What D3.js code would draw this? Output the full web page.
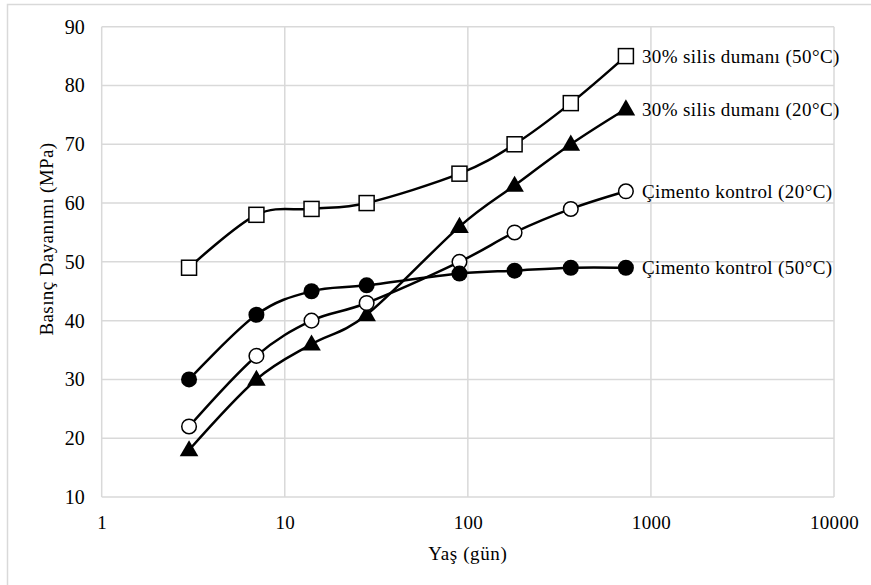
<!DOCTYPE html>
<html>
<head>
<meta charset="utf-8">
<script src="https://cdn.jsdelivr.net/npm/d3@7"></script>
<style>
  body { margin: 0; background: #fff; }
  text { font-family: "Liberation Serif", "Times New Roman", serif; fill: #000; }
</style>
</head>
<body>
<div id="chart"></div>
<script>
// ages in days (log axis)
var days = [3, 7, 14, 28, 90, 180, 365, 730];

// compressive strength (MPa) for each series
var silis50 = [49, 58, 59, 60, 65, 70, 77, 85];
var silis20 = [18, 30, 36, 41, 56, 63, 70, 76];
var cim20 = [22, 34, 40, 43, 50, 55, 59, 62];
var cim50 = [30, 41, 45, 46, 48, 48.5, 49, 49];

var seriesNames = ["30% silis dumanı (50°C)", "30% silis dumanı (20°C)", "Çimento kontrol (20°C)", "Çimento kontrol (50°C)"];
var xTicks = [1, 10, 100, 1000, 10000];
var yTicks = [10, 20, 30, 40, 50, 60, 70, 80, 90];

var series = [
  { name: seriesNames[0], values: silis50, marker: "square" },
  { name: seriesNames[1], values: silis20, marker: "triangle" },
  { name: seriesNames[2], values: cim20, marker: "openCircle" },
  { name: seriesNames[3], values: cim50, marker: "filledCircle" }
];

var svgWidth = 871, svgHeight = 585;
var margin = { top: 26.7, right: 37, bottom: 88, left: 101.7 };
var chartWidth = svgWidth - margin.left - margin.right;
var chartHeight = svgHeight - margin.top - margin.bottom;

var svg = d3.select("#chart").append("svg")
  .attr("width", svgWidth)
  .attr("height", svgHeight);

// outer frame (only top/left visible in the picture)
svg.append("path")
  .attr("d", "M7.5,585 V4.5 H871")
  .attr("fill", "none")
  .attr("stroke", "#d9d9d9")
  .attr("stroke-width", 1.5);

var chart = svg.append("g")
  .attr("transform", "translate(" + margin.left + "," + margin.top + ")");

var x = d3.scaleLog().domain([1, 10000]).range([0, chartWidth]);
var y = d3.scaleLinear().domain([10, 90]).range([chartHeight, 0]);

// gridlines
chart.selectAll(".hgrid").data(yTicks).enter().append("line")
  .attr("x1", 0).attr("x2", chartWidth)
  .attr("y1", function(d) { return y(d); })
  .attr("y2", function(d) { return y(d); })
  .attr("stroke", "#d9d9d9").attr("stroke-width", 1.5);

chart.selectAll(".vgrid").data(xTicks).enter().append("line")
  .attr("y1", 0).attr("y2", chartHeight)
  .attr("x1", function(d) { return x(d); })
  .attr("x2", function(d) { return x(d); })
  .attr("stroke", "#d9d9d9").attr("stroke-width", 1.5);

// axes (labels only)
var yAxis = chart.append("g")
  .call(d3.axisLeft(y).tickValues(yTicks).tickSize(0).tickPadding(17));
var xAxis = chart.append("g")
  .attr("transform", "translate(0," + chartHeight + ")")
  .call(d3.axisBottom(x).tickValues(xTicks).tickFormat(d3.format("d")).tickSize(0).tickPadding(19));
yAxis.select(".domain").remove();
xAxis.select(".domain").remove();
yAxis.selectAll("text").attr("font-family", "Liberation Serif").attr("font-size", 20).attr("fill", "#000");
xAxis.selectAll("text").attr("font-family", "Liberation Serif").attr("font-size", 19).attr("fill", "#000")
  .attr("letter-spacing", 0.3);

// axis titles
svg.append("text")
  .attr("transform", "translate(53,239) rotate(-90)")
  .attr("text-anchor", "middle")
  .attr("font-size", 19)
  .attr("letter-spacing", 0.4)
  .text("Basınç Dayanımı (MPa)");

svg.append("text")
  .attr("x", margin.left + chartWidth / 2)
  .attr("y", 560)
  .attr("text-anchor", "middle")
  .attr("font-size", 19)
  .attr("letter-spacing", 0.6)
  .text("Yaş (gün)");

// smoothed lines
var line = d3.line()
  .x(function(d, i) { return x(days[i]); })
  .y(function(d) { return y(d); })
  .curve(d3.curveCardinal.tension(0));

series.forEach(function(s) {
  chart.append("path")
    .attr("d", line(s.values))
    .attr("fill", "none")
    .attr("stroke", "#000")
    .attr("stroke-width", 2.5);
});

// markers
var tri = d3.symbol().type(d3.symbolTriangle).size(150);
series.forEach(function(s) {
  var g = chart.append("g");
  s.values.forEach(function(v, i) {
    var cx = x(days[i]), cy = y(v);
    if (s.marker === "square") {
      g.append("rect").attr("x", cx - 7.5).attr("y", cy - 7.5)
        .attr("width", 15).attr("height", 15)
        .attr("fill", "#fff").attr("stroke", "#000").attr("stroke-width", 1.5);
    } else if (s.marker === "triangle") {
      g.append("path").attr("d", tri)
        .attr("transform", "translate(" + cx + "," + (cy + 1) + ")")
        .attr("fill", "#000");
    } else if (s.marker === "openCircle") {
      g.append("circle").attr("cx", cx).attr("cy", cy).attr("r", 7.3)
        .attr("fill", "#fff").attr("stroke", "#000").attr("stroke-width", 1.5);
    } else {
      g.append("circle").attr("cx", cx).attr("cy", cy).attr("r", 8)
        .attr("fill", "#000");
    }
  });
  // data label at the last point
  var last = s.values.length - 1;
  chart.append("text")
    .attr("x", x(days[last]) + 16)
    .attr("y", y(s.values[last]))
    .attr("dy", "0.35em")
    .attr("font-size", 19)
    .attr("letter-spacing", 0.4)
    .text(s.name);
});
</script>
</body>
</html>
